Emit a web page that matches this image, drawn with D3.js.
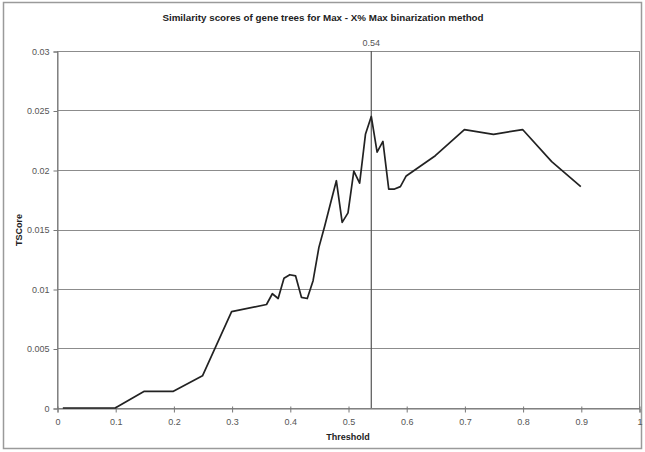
<!DOCTYPE html>
<html><head><meta charset="utf-8">
<script src="https://cdn.jsdelivr.net/npm/d3@7"></script>
<style>body{margin:0;background:#fff}svg{display:block}text{font-family:Arial,"Liberation Sans",sans-serif}</style>
</head><body><svg id="c" width="645" height="452"></svg>
<script>
const thresholds = [0.01,0.1,0.15,0.2,0.25,0.3,0.36,0.37,0.38,0.39,0.4,0.41,0.42,0.43,0.44,0.45,0.46,0.47,0.48,0.49,0.5,0.51,0.52,0.53,0.54,0.55,0.56,0.57,0.58,0.59,0.6,0.65,0.7,0.75,0.8,0.85,0.9];
const tscore = [0,0,0.0014,0.0014,0.0027,0.0081,0.0087,0.0096,0.0092,0.0109,0.0112,0.0111,0.0093,0.0092,0.0107,0.0135,0.0153,0.0172,0.0191,0.0156,0.0164,0.0199,0.0189,0.0230,0.0245,0.0215,0.0224,0.0184,0.0184,0.0186,0.0195,0.0212,0.0234,0.0230,0.0234,0.0207,0.0186];
const xTicks = [0,0.1,0.2,0.3,0.4,0.5,0.6,0.7,0.8,0.9,1];
const xTickLabels = ["0","0.1","0.2","0.3","0.4","0.5","0.6","0.7","0.8","0.9","1"];
const yTicks = [0,0.005,0.01,0.015,0.02,0.025,0.03];
const yTickLabels = ["0","0.005","0.01","0.015","0.02","0.025","0.03"];
const markerX = 0.54;
const markerLabel = "0.54";
const title = "Similarity scores of gene trees for Max - X% Max binarization method";
const xTitle = "Threshold", yTitle = "TSCore";

const svg = d3.select("#c");
const L = 57, R = 639, T = 51, B = 408;
const x = d3.scaleLinear().domain([0,1]).range([L,R]);
const y = d3.scaleLinear().domain([0,0.03]).range([B,T]);

svg.append("rect").attr("x",3.5).attr("y",2.5).attr("width",638).attr("height",446)
  .attr("fill","#fff").attr("stroke","#9a9a9a").attr("stroke-width",1.5);

// gridlines
svg.append("g").selectAll("line").data(yTicks.slice(1)).join("line")
  .attr("x1",L).attr("x2",R).attr("y1",d=>Math.round(y(d))+0.5).attr("y2",d=>Math.round(y(d))+0.5)
  .attr("stroke","#8c8c8c").attr("stroke-width",1);
// plot border
svg.append("rect").attr("x",L+0.5).attr("y",T+0.5).attr("width",R-L).attr("height",B-T)
  .attr("fill","none").attr("stroke","#8c8c8c");

// axes
const ya = d3.axisLeft(y).tickValues(yTicks).tickFormat((d,i)=>yTickLabels[i]).tickSize(4).tickPadding(4);
const gy = svg.append("g").attr("transform",`translate(${L+0.5},0.5)`).call(ya);
const xa = d3.axisBottom(x).tickValues(xTicks).tickFormat((d,i)=>xTickLabels[i]).tickSize(4).tickPadding(6);
const gx = svg.append("g").attr("transform",`translate(0.5,${B+0.5})`).call(xa);
[gx,gy].forEach(g=>{
  g.select(".domain").attr("stroke","#777");
  g.selectAll(".tick line").attr("stroke","#777");
  g.selectAll("text").attr("fill","#555").style("font-size","9px");
});
gx.selectAll(".tick line").attr("y1",-2);

// marker
svg.append("line").attr("x1",x(markerX)).attr("x2",x(markerX)).attr("y1",T).attr("y2",B)
  .attr("stroke","#555").attr("stroke-width",1.2);
svg.append("text").attr("x",x(markerX)).attr("y",T-5).attr("text-anchor","middle")
  .attr("fill","#555").style("font-size","9px").text(markerLabel);

// line
svg.append("path").datum(thresholds.map((t,i)=>[t,tscore[i]]))
  .attr("d",d3.line().x(d=>x(d[0])).y(d=>y(d[1])))
  .attr("fill","none").attr("stroke","#222").attr("stroke-width",1.7).attr("stroke-linejoin","round");

svg.append("text").attr("x",323).attr("y",21).attr("text-anchor","middle")
  .style("font-size","9.8px").style("font-weight","bold").attr("fill","#222").text(title);
svg.append("text").attr("x",348).attr("y",440).attr("text-anchor","middle")
  .style("font-size","9px").style("font-weight","bold").attr("fill","#222").text(xTitle);
svg.append("text").attr("transform","translate(22,230) rotate(-90)").attr("text-anchor","middle")
  .style("font-size","9px").style("font-weight","bold").attr("fill","#222").text(yTitle);
</script></body></html>
